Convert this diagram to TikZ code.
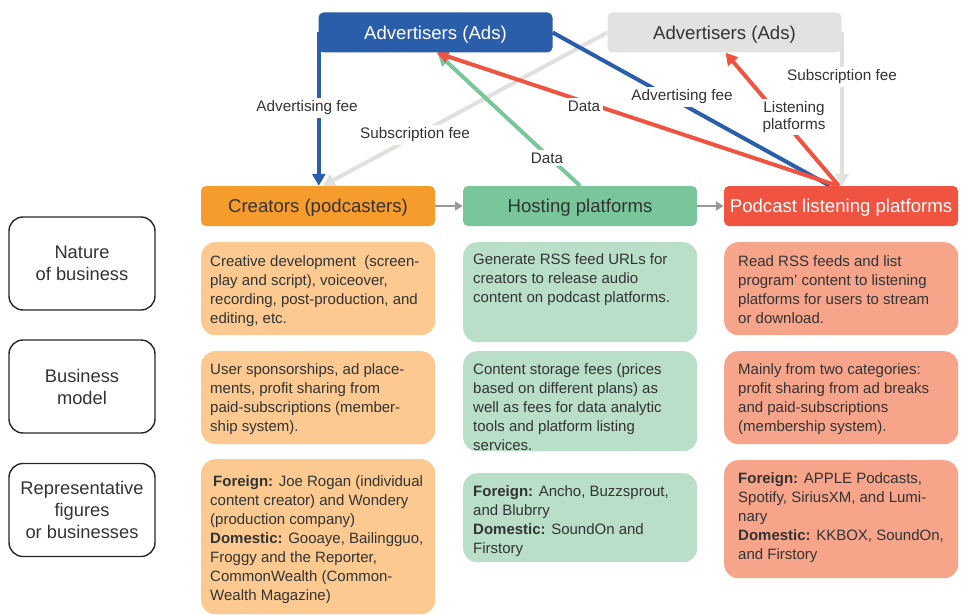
\documentclass[tikz,border=0pt]{standalone}
\usepackage{fontspec}
\setmainfont{Liberation Sans}
\usetikzlibrary{arrows.meta,calc,backgrounds}

\definecolor{txt}{HTML}{333333}
\definecolor{adblue}{HTML}{2B5EAA}
\definecolor{adgrey}{HTML}{E2E3E1}
\definecolor{lgrey}{HTML}{E0E1DF}
\definecolor{crorange}{HTML}{F69C2C}
\definecolor{hsgreen}{HTML}{78C69A}
\definecolor{pdred}{HTML}{F05340}
\definecolor{lorange}{HTML}{FCCA90}
\definecolor{lgreen}{HTML}{B9DFC9}
\definecolor{lred}{HTML}{F6A58B}
\definecolor{midgrey}{HTML}{9A9A9A}

\tikzset{
  hdr/.style={rounded corners=5pt, minimum width=234pt, minimum height=40pt,
    inner sep=0pt, text height=13.3pt, text depth=0pt,
    font=\fontsize{18.6}{22}\selectfont},
  cbox/.style={rounded corners=14pt, minimum width=234pt, inner sep=0pt, anchor=north west},
  ctext/.style={anchor=north west, inner sep=0pt, align=left,
    font=\fontsize{15}{19}\selectfont, text=txt},
  lbox/.style={draw=black!85, line width=1.4pt, rounded corners=14pt,
    minimum width=146pt, minimum height=93pt, align=center,
    font=\fontsize{18.3}{22}\selectfont, text=txt},
  lab/.style={fill=white, inner sep=2.5pt, align=center,
    font=\fontsize{15.3}{19}\selectfont, text=txt},
  flow/.style={line width=4pt},
  bigtip/.style={-{Triangle[width=13pt,length=12pt]}},
  link/.style={draw=midgrey, line width=2.2pt, -{Triangle[width=9pt,length=8pt]}},
}

\begin{document}
\begin{tikzpicture}[x=1pt, y=-1pt]
\useasboundingbox (0,0) rectangle (961,615);

% row labels
\node[lbox] (l1) at (82,263.5) {Nature\\of business};
\node[lbox] (l2) at (82,386.5) {Business\\model};
\node[lbox] (l3) at (82,510) {Representative\\figures\\or businesses};

% content boxes
\node[cbox, fill=lorange, minimum height=93pt]  (o1) at (201,242) {};
\node[cbox, fill=lorange, minimum height=93pt]  (o2) at (201,351) {};
\node[cbox, fill=lorange, minimum height=155pt] (o3) at (201,459) {};
\node[cbox, fill=lgreen, minimum height=100pt]  (g1) at (463,242) {};
\node[cbox, fill=lgreen, minimum height=100pt]  (g2) at (463,351) {};
\node[cbox, fill=lgreen, minimum height=89pt]   (g3) at (463,473) {};
\node[cbox, fill=lred, minimum height=93pt]     (r1) at (724,242) {};
\node[cbox, fill=lred, minimum height=93pt]     (r2) at (724,351) {};
\node[cbox, fill=lred, minimum height=118pt]    (r3) at (724,460) {};

\node[ctext] (o1t) at (210,255) {Creative development\ \ (screen-\\play and script), voiceover,\\recording, post-production, and\\editing, etc.};
\node[ctext] (o2t) at (210,363) {User sponsorships, ad place-\\ments, profit sharing from\\paid-subscriptions (member-\\ship system).};
\node[ctext] (o3t) at (210,475) {\hspace{3pt}\textbf{Foreign:} Joe Rogan (individual\\content creator) and Wondery\\(production company)\\\textbf{Domestic:} Gooaye, Bailingguo,\\Froggy and the Reporter,\\CommonWealth (Common-\\Wealth Magazine)};
\node[ctext] (g1t) at (473,253) {Generate RSS feed URLs for\\creators to release audio\\content on podcast platforms.};
\node[ctext] (g2t) at (473,363) {Content storage fees (prices\\based on different plans) as\\well as fees for data analytic\\tools and platform listing\\services.};
\node[ctext] (g3t) at (473,485) {\textbf{Foreign:} Ancho, Buzzsprout,\\and Blubrry\\\textbf{Domestic:} SoundOn and\\Firstory};
\node[ctext] (r1t) at (738,255) {Read RSS feeds and list\\program’ content to listening\\platforms for users to stream\\or download.};
\node[ctext] (r2t) at (738,363) {Mainly from two categories:\\profit sharing from ad breaks\\and paid-subscriptions\\(membership system).};
\node[ctext] (r3t) at (738,472) {\textbf{Foreign:} APPLE Podcasts,\\Spotify, SiriusXM, and Lumi-\\nary\\\textbf{Domestic:} KKBOX, SoundOn,\\and Firstory};

% column headers and advertisers
\node[hdr, fill=crorange, text=txt] (cre)  at (318,206) {Creators (podcasters)};
\node[hdr, fill=hsgreen, text=txt]  (host) at (580,206) {Hosting platforms};
\node[hdr, fill=pdred, text=white]  (pod)  at (841,206) {Podcast listening platforms};
\node[hdr, fill=adblue, text=white] (ads1) at (435.5,32.5) {Advertisers (Ads)};
\node[hdr, fill=adgrey, text=txt]   (ads2) at (724.5,32.5) {Advertisers (Ads)};
\draw[link] (cre.east) -- (host.west);
\draw[link] (host.east) -- (pod.west);

% flows between the parties, behind the boxes
\begin{scope}[on background layer]
\draw[flow, draw=lgrey, bigtip] (ads2.west) -- ($(cre.north west)+(122,0)$);
\draw[flow, draw=lgrey, bigtip] ([xshift=0.5pt]ads2.east) -- ([xshift=0.5pt]ads2.east |- pod.north);
\draw[flow, draw=adblue, bigtip] ([xshift=0.5pt]ads1.west) -- ([xshift=0.5pt]ads1.west |- cre.north);
\draw[flow, draw=adblue] (ads1.east) -- ($(pod.north west)+(106,0)$);
\draw[flow, draw=hsgreen, bigtip] (host.north) -- ([xshift=2.5pt,yshift=-1pt]ads1.south);
\draw[flow, draw=pdred, bigtip] ($(pod.north west)+(114,0)$) -- ([xshift=1pt]ads1.south);
\draw[flow, draw=pdred, bigtip] ($(pod.north west)+(115,0)$) -- ([xshift=1pt]ads2.south);
\end{scope}

% flow labels
\node[lab] (f1) at (307,108) {Advertising fee};
\node[lab] (f2) at (415,135) {Subscription fee};
\node[lab] (f3) at (584,106) {Data};
\node[lab] (f4) at (547,158) {Data};
\node[lab] (f5) at (682,97) {Advertising fee};
\node[lab] (f6) at (794,117) {Listening\\[-2pt]platforms};
\node[lab] (f7) at (842,77) {Subscription fee};
\end{tikzpicture}
\end{document}
